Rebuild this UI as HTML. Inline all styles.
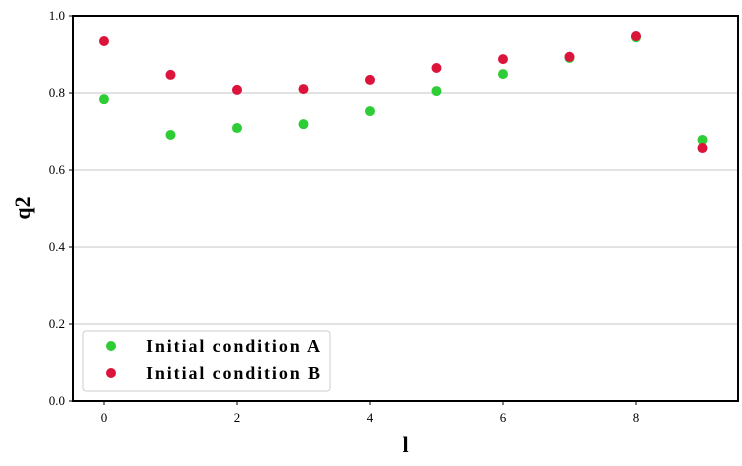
<!DOCTYPE html>
<html><head><meta charset="utf-8"><style>
body{margin:0;background:#fff;}
svg{display:block;font-family:"Liberation Serif",serif;}
</style></head><body>
<svg id="chart" width="742" height="466"></svg>
<script>
const xValues=[0,1,2,3,4,5,6,7,8,9];
const seriesA=[0.784,0.691,0.709,0.719,0.753,0.805,0.849,0.891,0.945,0.678];
const seriesB=[0.935,0.847,0.808,0.810,0.834,0.865,0.888,0.894,0.948,0.657];
const xTicks=[0,2,4,6,8];
const yTicks=[0.0,0.2,0.4,0.6,0.8,1.0];
const NS="http://www.w3.org/2000/svg";
const svg=document.getElementById('chart');
const L=73,R=738,T=16,B=401;
const xMin=-0.466,xMax=9.534,yMin=0,yMax=1;
const xs=v=>L+(v-xMin)/(xMax-xMin)*(R-L);
const ys=v=>B-(v-yMin)/(yMax-yMin)*(B-T);
function mk(tag,a,parent){const e=document.createElementNS(NS,tag);for(const k in a)e.setAttribute(k,a[k]);(parent||svg).appendChild(e);return e;}
const grid=mk('g',{});


yTicks.forEach(t=>{
 if(t>0&&t<1){const g=mk('line',{x1:L,x2:R,y1:ys(t),y2:ys(t),stroke:'#b0b0b0','stroke-width':0.8},grid);
 
 }
 const tk=mk('line',{x1:L-4,x2:L,y1:ys(t),y2:ys(t),stroke:'#000','stroke-width':1});
 
 
 const tx=mk('text',{x:L-8,y:ys(t)+4,'text-anchor':'end','font-size':13});
 tx.textContent=t.toFixed(1);
 
 
});
xTicks.forEach(t=>{
 const tk=mk('line',{x1:xs(t),x2:xs(t),y1:B,y2:B+4,stroke:'#000','stroke-width':1});
 
 
 const tx=mk('text',{x:xs(t),y:B+21,'text-anchor':'middle','font-size':13});
 tx.textContent=t;
 
 
});
function series(vals,color,name){
 const g=mk('g',{});
 
 
 vals.forEach((v,i)=>{const c=mk('circle',{cx:xs(xValues[i]),cy:ys(v),r:5,fill:color},g);
 
 });
}
series(seriesA,'#2ecc35','series-a');
series(seriesB,'#dc143c','series-b');
const frame=mk('rect',{x:L,y:T,width:R-L,height:B-T,fill:'none',stroke:'#000','stroke-width':2});


const xl=mk('text',{x:(L+R)/2,y:452,'text-anchor':'middle','font-size':22,'font-weight':'bold'});
xl.textContent='l';


const yl=mk('text',{x:0,y:0,'text-anchor':'middle','font-size':22,'font-weight':'bold',transform:'translate(30,208) rotate(-90)'});
yl.textContent='q2';


const lg=mk('g',{});


mk('rect',{x:83,y:331,width:247,height:60,rx:3,fill:'#fff',stroke:'#ccc','stroke-width':1},lg);
[['Initial condition A','#2ecc35',346],['Initial condition B','#dc143c',373]].forEach(([t,c,y])=>{
 const e=mk('g',{},lg);
 
 
 mk('circle',{cx:111,cy:y,r:5,fill:c},e);
 const tx=mk('text',{x:146,y:y+6,'font-size':18,'font-weight':'bold',textLength:174,lengthAdjust:'spacing'},e);
 tx.textContent=t;
});
</script>
</body></html>
